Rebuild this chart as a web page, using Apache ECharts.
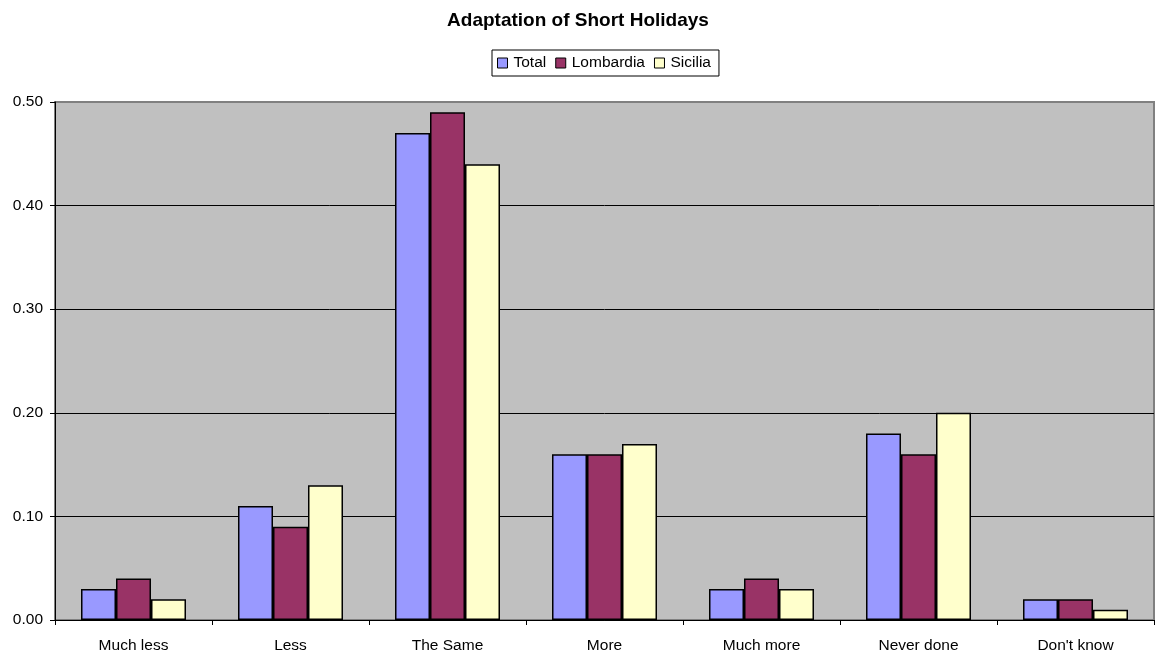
<!DOCTYPE html>
<html>
<head>
<meta charset="utf-8">
<script src="https://cdn.jsdelivr.net/npm/echarts@6/dist/echarts.min.js"></script>
<style>
  html, body { margin: 0; padding: 0; background: #fff; }
  #chart { width: 1156px; height: 657px; }
</style>
</head>
<body>
<div id="chart"></div>
<script>
const categories = ['Much less', 'Less', 'The Same', 'More', 'Much more', 'Never done', "Don't know"];
const total = [0.03, 0.11, 0.47, 0.16, 0.03, 0.18, 0.02];
const lombardia = [0.04, 0.09, 0.49, 0.16, 0.04, 0.16, 0.02];
const sicilia = [0.02, 0.13, 0.44, 0.17, 0.03, 0.20, 0.01];
const yTicks = [0, 0.1, 0.2, 0.3, 0.4, 0.5];

const font = 'Liberation Sans, Arial, sans-serif';

function bar(name, data, color) {
  return {
    name: name,
    type: 'bar',
    data: data,
    barWidth: 35,
    barGap: '0%',
    itemStyle: { color: color, borderColor: '#000', borderWidth: 1.5 },
  };
}

const myChart = echarts.init(document.getElementById('chart'), null, { renderer: 'canvas' });
myChart.setOption({
  animation: false,
  backgroundColor: '#fff',
  textStyle: { fontFamily: font, color: '#000' },
  title: {
    text: 'Adaptation of Short Holidays',
    left: 'center',
    top: 6,
    textStyle: { fontFamily: font, fontSize: 19, fontWeight: 'bold', color: '#000' },
  },
  legend: {
    top: 50,
    left: 492,
    itemWidth: 10,
    itemHeight: 10,
    itemGap: 9,
    borderColor: '#000',
    borderWidth: 1,
    padding: [5, 8, 5, 5],
    icon: 'rect',
    textStyle: { fontFamily: font, fontSize: 15.5, color: '#000', padding: [0, 0, 0, 1] },
    itemStyle: { borderColor: '#000', borderWidth: 1 },
  },
  grid: {
    left: 55,
    right: 2,
    top: 102,
    bottom: 37,
    show: true,
    backgroundColor: '#C0C0C0',
    borderColor: '#808080',
    borderWidth: 2,
    containLabel: false,
  },
  xAxis: {
    type: 'category',
    data: categories,
    axisLine: { lineStyle: { color: '#000', width: 1 } },
    axisTick: { show: true, length: 5, lineStyle: { color: '#000' } },
    axisLabel: { fontFamily: font, fontSize: 15.5, color: '#000', margin: 18 },
  },
  yAxis: {
    type: 'value',
    min: yTicks[0],
    max: yTicks[yTicks.length - 1],
    interval: 0.1,
    axisLine: { show: true, lineStyle: { color: '#000', width: 1 } },
    axisTick: { show: true, length: 5, lineStyle: { color: '#000' } },
    axisLabel: {
      fontFamily: font, fontSize: 15.5, color: '#000', margin: 12,
      formatter: (v) => v.toFixed(2),
    },
    splitLine: { show: true, showMaxLine: false, lineStyle: { color: '#000', width: 1 } },
  },
  series: [
    bar('Total', total, '#9999FF'),
    bar('Lombardia', lombardia, '#993366'),
    bar('Sicilia', sicilia, '#FFFFCC'),
  ],
});
</script>
</body>
</html>
